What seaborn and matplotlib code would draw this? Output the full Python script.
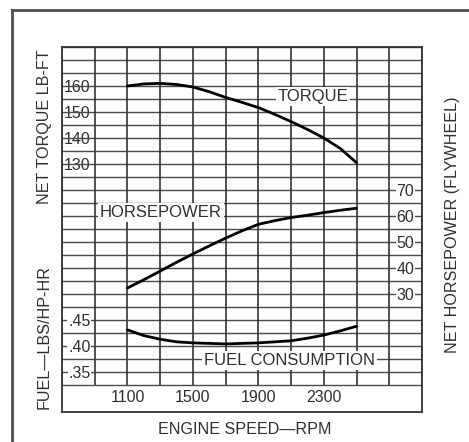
import numpy as np
import matplotlib
matplotlib.use("Agg")
import matplotlib.pyplot as plt
import seaborn as sns

# engine speed (rpm) and the three curves
rpm = [1100, 1200, 1300, 1400, 1500, 1600, 1700, 1800, 1900, 2000, 2100, 2200, 2300, 2400, 2500]
torque = [160.0, 160.8, 161.0, 160.6, 159.6, 157.8, 155.6, 153.7, 151.7, 149.1, 146.3, 143.3, 140.0, 136.0, 130.5]
horsepower = [32.3, 35.5, 38.8, 42.2, 45.4, 48.5, 51.5, 54.3, 56.8, 58.2, 59.4, 60.3, 61.3, 62.2, 63.0]
fuel = [0.431, 0.420, 0.413, 0.408, 0.406, 0.405, 0.404, 0.405, 0.406, 0.408, 0.410, 0.415, 0.421, 0.429, 0.438]

torque_ticks = [130, 140, 150, 160]
hp_ticks = [30, 40, 50, 60, 70]
fuel_ticks = [0.35, 0.40, 0.45]
fuel_labels = [".35", ".40", ".45"]
rpm_ticks = [1100, 1500, 1900, 2300]

sns.set_style("white")
plt.rcParams["font.family"] = ["Liberation Sans", "DejaVu Sans"]
ink = "#2e2e2e"
gridc = "#4a4a4a"
tick_fs = 11.5

fig = plt.figure(figsize=(4.69, 4.42), dpi=100)

# outer frame (only top and left edge of the scanned page show)
frame = fig.add_axes([12 / 469, -0.2, 1.2, 1.2 - 10 / 442])
frame.set_xticks([])
frame.set_yticks([])
for s in ["right", "bottom"]:
    frame.spines[s].set_visible(False)
for s in ["top", "left"]:
    frame.spines[s].set_linewidth(2.0)
    frame.spines[s].set_color("#505050")

# main axes: torque scale, grid 45..175 in steps of 5, band below for rpm labels
ax = fig.add_axes([62 / 469, 30 / 442, 360 / 469, 365 / 442])
px = 2.6  # pixels per torque unit
t_lo = 175 - 365 / px
ax.set_xlim(700, 2900)
ax.set_ylim(t_lo, 175)

grid_x = np.arange(700, 2901, 200)
grid_y = np.arange(45, 176, 5)
ax.hlines(grid_y, 700, 2900, color=gridc, linewidth=1.0, zorder=1)
ax.vlines(grid_x, 45, 175, color="#333333", linewidth=1.2, zorder=1)

for s in ax.spines.values():
    s.set_color("#333333")
    s.set_linewidth(1.3)

sns.lineplot(x=rpm, y=torque, ax=ax, color="black", linewidth=2.0, zorder=3)

ax.set_yticks(torque_ticks)
ax.tick_params(axis="y", direction="in", length=0, pad=-20.5, labelsize=tick_fs, labelcolor=ink)
ax.set_xticks(rpm_ticks)
ax.tick_params(axis="x", direction="in", length=0, pad=-16, labelsize=tick_fs, labelcolor=ink)
for t in ax.get_yticklabels():
    t.set_bbox(dict(facecolor="white", edgecolor="none", pad=0.5))

# horsepower scale
ax_hp = ax.twinx()
ax_hp.set_ylim(t_lo - 50, 125)
sns.lineplot(x=rpm, y=horsepower, ax=ax_hp, color="black", linewidth=2.0)
ax_hp.set_yticks(hp_ticks)
ax_hp.tick_params(axis="y", direction="in", length=0, pad=-18.5, labelsize=tick_fs, labelcolor=ink)
for t in ax_hp.get_yticklabels():
    t.set_bbox(dict(facecolor="white", edgecolor="none", pad=0.5))

# fuel consumption scale
ax_fuel = ax.twinx()
ax_fuel.set_ylim(0.45 + (t_lo - 70) * 0.005, 0.975)
sns.lineplot(x=rpm, y=fuel, ax=ax_fuel, color="black", linewidth=2.0)
ax_fuel.yaxis.set_ticks_position("left")
ax_fuel.yaxis.set_label_position("left")
ax_fuel.set_yticks(fuel_ticks)
ax_fuel.set_yticklabels(fuel_labels)
ax_fuel.tick_params(axis="y", direction="in", length=0, pad=-20.5, labelsize=tick_fs, labelcolor=ink)
for t in ax_fuel.get_yticklabels():
    t.set_bbox(dict(facecolor="white", edgecolor="none", pad=0.5))

for a in (ax_hp, ax_fuel):
    for s in a.spines.values():
        s.set_visible(False)
    a.set_ylabel("")
    a.set_xlabel("")

# curve names sitting on the grid
lbl = dict(fontsize=12, color=ink, ha="center", va="center",
           bbox=dict(facecolor="white", edgecolor="none", pad=1.5), zorder=4)
ax.text(2234, 155.8, "TORQUE", **lbl)
ax.text(1305, 111.2, "HORSEPOWER", **lbl)
ax.text(2093, 54.6, "FUEL CONSUMPTION", **lbl)

# axis titles
title_fs = 11.6
fig.text(0.094, 1 - 127 / 442, "NET TORQUE LB-FT", rotation=90, ha="center", va="center", fontsize=title_fs, color=ink)
fig.text(0.094, 1 - 337 / 442, "FUEL\u2014LBS/HP-HR", rotation=90, ha="center", va="center", fontsize=title_fs, color=ink)
fig.text(452 / 469, 1 - 225 / 442, "NET HORSEPOWER (FLYWHEEL)", rotation=90, ha="center", va="center", fontsize=title_fs, color=ink)
fig.text(245 / 469, 1 - 429 / 442, "ENGINE SPEED\u2014RPM", ha="center", va="center", fontsize=title_fs, color=ink)

fig.savefig("out.png", dpi=100)
